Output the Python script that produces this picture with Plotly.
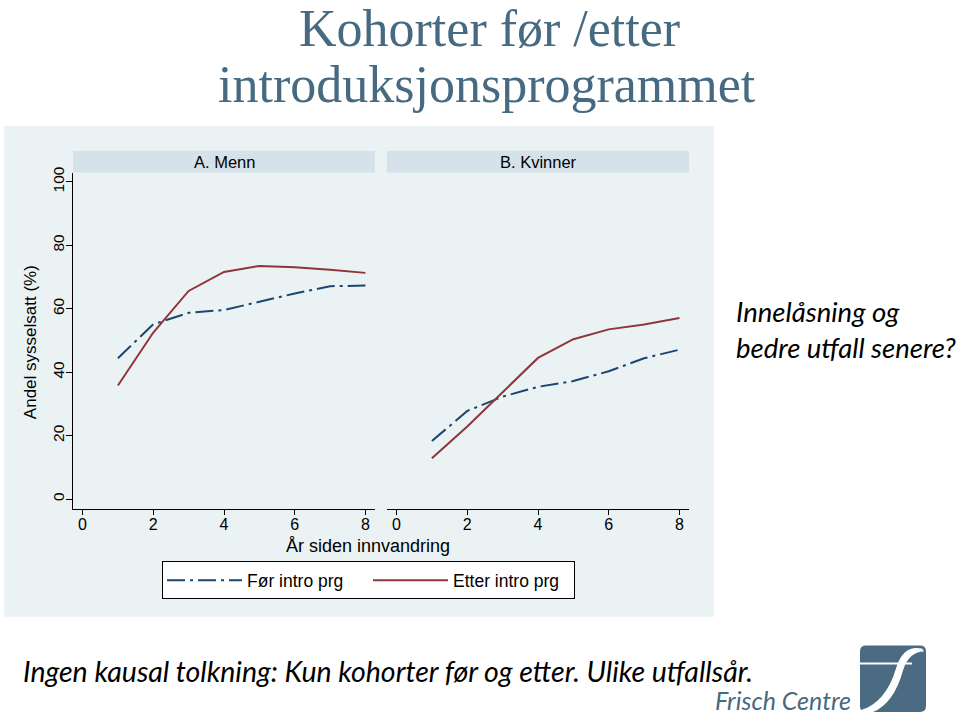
import plotly.graph_objects as go
from plotly.subplots import make_subplots

# ---- data ----
years = [1, 2, 3, 4, 5, 6, 7, 8]
menn_for = [44.4, 55.1, 58.7, 59.6, 62.2, 64.8, 67.1, 67.3]
menn_etter = [35.8, 52.5, 65.6, 71.6, 73.5, 73.1, 72.3, 71.3]
kvinner_for = [18.3, 27.8, 32.3, 35.4, 37.2, 40.3, 44.4, 47.1]
kvinner_etter = [12.9, 22.9, 33.7, 44.5, 50.4, 53.5, 55.0, 57.1]
x_ticks = [0, 2, 4, 6, 8]
y_ticks = [0, 20, 40, 60, 80, 100]
grid_vals = [20, 40, 60, 80]
panel_titles = ["A. Menn", "B. Kvinner"]
series_names = ["Før intro prg", "Etter intro prg"]

W, H = 960, 716
def px(x):
    return x / W
def py(y):
    return 1 - y / H

C_FOR = "#1a476f"
C_ETTER = "#90353b"
BG = "#eaf2f3"
STRIP = "#d6e2e9"
SLATE = "#466a81"

fig = make_subplots(rows=1, cols=2)

dash = "18px,5px,3px,5px"
fig.add_trace(go.Scatter(x=years, y=menn_for, mode="lines", name=series_names[0],
                         line=dict(color=C_FOR, width=2, dash=dash), legendgroup="f"), 1, 1)
fig.add_trace(go.Scatter(x=years, y=menn_etter, mode="lines", name=series_names[1],
                         line=dict(color=C_ETTER, width=2), legendgroup="e"), 1, 1)
fig.add_trace(go.Scatter(x=years, y=kvinner_for, mode="lines", name=series_names[0],
                         line=dict(color=C_FOR, width=2, dash=dash), legendgroup="f",
                         showlegend=False), 1, 2)
fig.add_trace(go.Scatter(x=years, y=kvinner_etter, mode="lines", name=series_names[1],
                         line=dict(color=C_ETTER, width=2), legendgroup="e",
                         showlegend=False), 1, 2)

font_ax = "Liberation Sans, Arial, sans-serif"
xdomA = [px(73), px(375)]
xdomB = [px(387), px(689)]
ydom = [py(507), py(168)]
xr = [-0.27, 8.27]
yr = [-3.03, 102.9]

xcommon = dict(range=xr, tickvals=x_ticks, showline=True, linecolor="black", linewidth=1,
               ticks="outside", ticklen=5, tickcolor="black", showgrid=False, zeroline=False,
               ticklabelstandoff=-4,
               tickfont=dict(family=font_ax, size=16, color="black"), fixedrange=True)
fig.update_xaxes(domain=xdomA, row=1, col=1, **xcommon)
fig.update_xaxes(domain=xdomB, row=1, col=2, **xcommon)

minor = dict(tickvals=grid_vals, showgrid=True, gridcolor=BG, gridwidth=1, ticks="")
fig.update_yaxes(domain=ydom, range=yr, tickvals=y_ticks, showline=True, linecolor="black",
                 linewidth=1, ticks="outside", ticklen=6, tickcolor="black", showgrid=False,
                 zeroline=False, tickangle=-90, minor=minor, ticklabelstandoff=-4,
                 tickfont=dict(family=font_ax, size=15.5, color="black"), row=1, col=1)
fig.update_yaxes(domain=ydom, range=yr, tickvals=y_ticks, showline=False, ticks="",
                 showticklabels=False, showgrid=False, zeroline=False, minor=minor,
                 row=1, col=2)

shapes = []
# grey graph region
shapes.append(dict(type="rect", xref="paper", yref="paper", x0=px(4), x1=px(714),
                   y0=py(616), y1=py(121), fillcolor=BG, line=dict(width=0), layer="below"))
annotations = []
for dom, t in zip([xdomA, xdomB], panel_titles):
    shapes.append(dict(type="rect", xref="paper", yref="paper", x0=dom[0], x1=dom[1],
                       y0=py(168), y1=py(146), fillcolor=STRIP, line=dict(width=0)))
    annotations.append(dict(text=t, xref="paper", yref="paper", x=(dom[0] + dom[1]) / 2,
                            y=py(157), showarrow=False, xanchor="center", yanchor="middle",
                            font=dict(family=font_ax, size=16.5, color="black")))

# axis titles
annotations.append(dict(text="Andel sysselsatt (%)", xref="paper", yref="paper", x=px(30),
                        y=py(339), textangle=-90, showarrow=False, xanchor="center",
                        yanchor="middle", font=dict(family=font_ax, size=17, color="black")))
annotations.append(dict(text="År siden innvandring", xref="paper", yref="paper", x=px(368),
                        y=py(545), showarrow=False, xanchor="center", yanchor="middle",
                        font=dict(family=font_ax, size=18, color="black")))

# slide title
serif = "Liberation Serif, Times New Roman, serif"
annotations.append(dict(text="Kohorter før /etter", xref="paper", yref="paper", x=px(490),
                        y=py(23), showarrow=False, xanchor="center", yanchor="middle",
                        font=dict(family=serif, size=52, color=SLATE)))
annotations.append(dict(text="introduksjonsprogrammet", xref="paper", yref="paper", x=px(487),
                        y=py(79), showarrow=False, xanchor="center", yanchor="middle",
                        font=dict(family=serif, size=52, color=SLATE)))

# side and bottom text
it_font = "Lato, Open Sans, sans-serif"
annotations.append(dict(text="<i>Innelåsning og<br>bedre utfall senere?</i>", xref="paper",
                        yref="paper", x=px(734), y=py(326), showarrow=False, xanchor="left",
                        yanchor="middle", align="left",
                        font=dict(family=it_font, size=27.5, color="black")))
annotations.append(dict(text="<i>Ingen kausal tolkning: Kun kohorter før og etter. Ulike utfallsår.</i>",
                        xref="paper", yref="paper", x=px(21), y=py(671), showarrow=False,
                        xanchor="left", yanchor="middle",
                        font=dict(family=it_font, size=28.5, color="black")))

# Frisch Centre logo
annotations.append(dict(text="<i>Frisch Centre</i>", xref="paper", yref="paper", x=px(853),
                        y=py(700), showarrow=False, xanchor="right", yanchor="middle",
                        font=dict(family=it_font, size=25, color=SLATE)))
x0, x1, y0, y1, r = 860, 926, 645, 712, 6
path = (f"M{px(x0 + r)},{py(y0)} L{px(x1 - r)},{py(y0)} Q{px(x1)},{py(y0)} {px(x1)},{py(y0 + r)} "
        f"L{px(x1)},{py(y1 - r)} Q{px(x1)},{py(y1)} {px(x1 - r)},{py(y1)} "
        f"L{px(x0 + r)},{py(y1)} Q{px(x0)},{py(y1)} {px(x0)},{py(y1 - r)} "
        f"L{px(x0)},{py(y0 + r)} Q{px(x0)},{py(y0)} {px(x0 + r)},{py(y0)} Z")
shapes.append(dict(type="path", xref="paper", yref="paper", path=path, fillcolor="#4a6b82",
                   line=dict(width=0)))
# white swoosh "f"
swoosh = (f"M{px(922)},{py(648)} Q{px(903)},{py(644)} {px(896)},{py(668)} "
          f"Q{px(886)},{py(702)} {px(861)},{py(710)} "
          f"L{px(861)},{py(712)} L{px(873)},{py(712)} "
          f"Q{px(894)},{py(703)} {px(903)},{py(670)} "
          f"Q{px(909)},{py(651)} {px(924)},{py(651)} Z")
shapes.append(dict(type="path", xref="paper", yref="paper", path=swoosh, fillcolor="white",
                   line=dict(width=0)))
shapes.append(dict(type="line", xref="paper", yref="paper", x0=px(860), x1=px(912),
                   y0=py(663), y1=py(663), line=dict(color="white", width=2)))

fig.update_layout(
    width=W, height=H, margin=dict(l=0, r=0, t=0, b=0),
    paper_bgcolor="white", plot_bgcolor="white",
    shapes=shapes, annotations=annotations,
    showlegend=True,
    legend=dict(orientation="h", x=px(162), y=py(560), xanchor="left", yanchor="top",
                bgcolor="white", bordercolor="black", borderwidth=1,
                font=dict(family=font_ax, size=17.5, color="black"),
                entrywidth=116, entrywidthmode="pixels", itemwidth=75,
                tracegroupgap=0),
)

fig.write_html("out.html")
